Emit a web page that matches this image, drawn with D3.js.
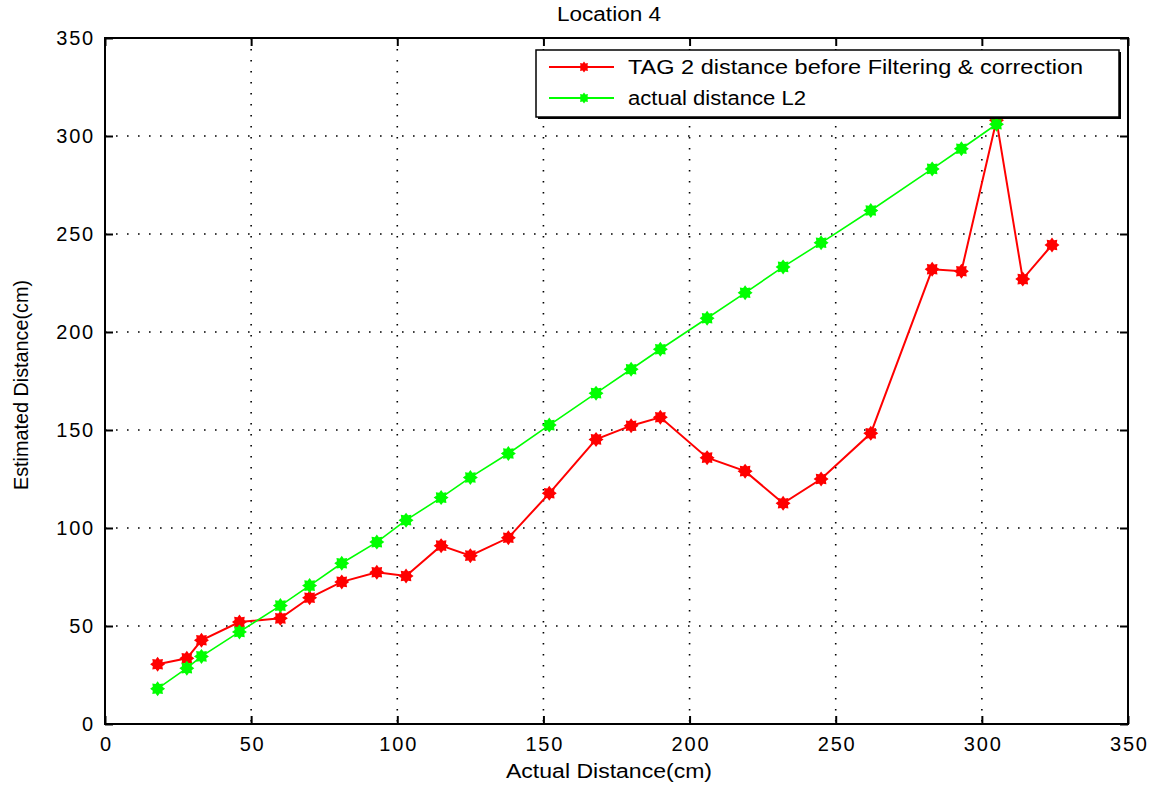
<!DOCTYPE html>
<html>
<head>
<meta charset="utf-8">
<script src="https://cdn.jsdelivr.net/npm/d3@7"></script>
<style>
  html, body { margin: 0; padding: 0; background: #fff; }
  svg { display: block; }
  text { font-family: "Liberation Sans", Arial, sans-serif; fill: #000; }
</style>
</head>
<body>
<svg id="chart" width="1158" height="786"></svg>
<script>
// Measured distances (cm) at each test position
const actualX = [18, 28, 33, 46, 60, 70, 81, 93, 103, 115, 125, 138, 152, 168, 180, 190, 206, 219, 232, 245, 262, 283, 293, 305];
const actualL2 = [18, 28.5, 34.5, 47, 60.4, 70.6, 82, 92.8, 104, 115.5, 125.8, 138, 152.5, 168.8, 181, 191.2, 207, 220, 233.2, 245.5, 262, 283.2, 293.5, 306];

const tagX = [18, 28, 33, 46, 60, 70, 81, 93, 103, 115, 125, 138, 152, 168, 180, 190, 206, 219, 232, 245, 262, 283, 293, 305, 314, 324];
const tagEstimate = [30.5, 33.5, 42.7, 52, 53.9, 64.4, 72.5, 77.4, 75.5, 91, 85.9, 95, 117.7, 145.2, 152.2, 156.5, 135.9, 129, 112.6, 125, 148.3, 232, 231, 308, 227, 244.4];

const xTicks = [0, 50, 100, 150, 200, 250, 300, 350];
const yTicks = [0, 50, 100, 150, 200, 250, 300, 350];

const titleText = "Location 4";
const xLabel = "Actual Distance(cm)";
const yLabel = "Estimated Distance(cm)";
const seriesNames = ["TAG 2 distance before Filtering & correction", "actual distance L2"];
const seriesColors = ["#ff0000", "#00ff00"];

const svg = d3.select("#chart");
const pLeft = 105, pRight = 1128, pTop = 38, pBottom = 724;
const fontSize = 20;

const x = d3.scaleLinear().domain([0, 350]).range([pLeft, pRight]);
const y = d3.scaleLinear().domain([0, 350]).range([pBottom, pTop]);

// Dotted grid
const grid = svg.append("g");
xTicks.slice(1, -1).forEach(t => {
  grid.append("line")
    .attr("x1", x(t)).attr("x2", x(t)).attr("y1", pTop).attr("y2", pBottom)
    .attr("stroke", "#000").attr("stroke-width", 1.6).attr("stroke-dasharray", "1.6,9.4");
});
yTicks.slice(1, -1).forEach(t => {
  grid.append("line")
    .attr("x1", pLeft).attr("x2", pRight).attr("y1", y(t)).attr("y2", y(t))
    .attr("stroke", "#000").attr("stroke-width", 1.6).attr("stroke-dasharray", "1.6,9.4");
});

// Axes with inward ticks on all four sides
const tickLen = 8;
const axB = svg.append("g").attr("transform", `translate(0,${pBottom})`)
  .call(d3.axisBottom(x).tickValues(xTicks).tickSizeInner(-tickLen).tickSizeOuter(0).tickPadding(11));
const axT = svg.append("g").attr("transform", `translate(0,${pTop})`)
  .call(d3.axisTop(x).tickValues(xTicks).tickSizeInner(-tickLen).tickSizeOuter(0).tickFormat(""));
const axL = svg.append("g").attr("transform", `translate(${pLeft},0)`)
  .call(d3.axisLeft(y).tickValues(yTicks).tickSizeInner(-tickLen).tickSizeOuter(0).tickPadding(10));
const axR = svg.append("g").attr("transform", `translate(${pRight},0)`)
  .call(d3.axisRight(y).tickValues(yTicks).tickSizeInner(-tickLen).tickSizeOuter(0).tickFormat(""));

[axB, axT, axL, axR].forEach(a => {
  a.select(".domain").remove();
  a.selectAll(".tick line").attr("stroke", "#000").attr("stroke-width", 2);
  a.selectAll(".tick text").attr("font-size", fontSize).attr("font-family", "Liberation Sans, Arial, sans-serif")
    .attr("letter-spacing", "1.8px").attr("fill", "#000");
});
axB.selectAll(".tick text").attr("dy", "0.78em").attr("dx", "0.9");
axL.selectAll(".tick text").attr("dy", "0.33em");

// Frame
svg.append("rect").attr("x", pLeft).attr("y", pTop).attr("width", pRight - pLeft).attr("height", pBottom - pTop)
  .attr("fill", "none").attr("stroke", "#000").attr("stroke-width", 2);

// Asterisk-style marker drawn as a filled 8-point burst
function burst(r1, r2) {
  const pts = [];
  for (let i = 0; i < 16; i++) {
    const a = Math.PI * i / 8;
    const r = i % 2 === 0 ? r1 : r2;
    pts.push([r * Math.sin(a), -r * Math.cos(a)]);
  }
  return "M" + pts.map(p => p.join(",")).join("L") + "Z";
}
const markerPath = burst(7.5, 5.2);

function drawSeries(xs, ys, color, width) {
  const data = xs.map((v, i) => [v, ys[i]]);
  const line = d3.line().x(d => x(d[0])).y(d => y(d[1]));
  const g = svg.append("g");
  g.append("path").datum(data).attr("d", line)
    .attr("fill", "none").attr("stroke", color).attr("stroke-width", width);
  g.selectAll("path.m").data(data).enter().append("path").attr("class", "m")
    .attr("d", markerPath).attr("transform", d => `translate(${x(d[0])},${y(d[1])})`)
    .attr("fill", color);
}

drawSeries(tagX, tagEstimate, seriesColors[0], 2);
drawSeries(actualX, actualL2, seriesColors[1], 1.6);

// Legend
const lg = svg.append("g");
const lx = 536, ly = 50, lw = 583, lh = 67;
lg.append("rect").attr("x", lx + 2).attr("y", ly + 2).attr("width", lw).attr("height", lh).attr("fill", "#000");
lg.append("rect").attr("x", lx).attr("y", ly).attr("width", lw).attr("height", lh)
  .attr("fill", "#fff").attr("stroke", "#000").attr("stroke-width", 1.5);
const rows = [ly + 17, ly + 48];
seriesNames.forEach((name, i) => {
  lg.append("line").attr("x1", lx + 13).attr("x2", lx + 78).attr("y1", rows[i]).attr("y2", rows[i])
    .attr("stroke", seriesColors[i]).attr("stroke-width", 1.8);
  lg.append("path").attr("d", burst(5.5, 3.8)).attr("transform", `translate(${lx + 48},${rows[i]})`)
    .attr("fill", seriesColors[i]);
  lg.append("text").attr("x", lx + 92).attr("y", rows[i]).attr("dy", "0.36em")
    .attr("font-size", fontSize)
    .attr("textLength", i === 0 ? 455 : 178).attr("lengthAdjust", "spacingAndGlyphs")
    .text(name);
});

// Title and axis labels
svg.append("text").attr("x", 609).attr("y", 14).attr("dy", "0.35em").attr("text-anchor", "middle")
  .attr("font-size", fontSize).attr("textLength", 104).attr("lengthAdjust", "spacingAndGlyphs").text(titleText);
svg.append("text").attr("x", 609).attr("y", 771).attr("dy", "0.35em").attr("text-anchor", "middle")
  .attr("font-size", fontSize).attr("textLength", 206).attr("lengthAdjust", "spacingAndGlyphs").text(xLabel);
svg.append("text").attr("transform", `translate(21,${(pTop + pBottom) / 2 + 4}) rotate(-90)`)
  .attr("dy", "0.35em").attr("text-anchor", "middle")
  .attr("font-size", fontSize).attr("textLength", 210).attr("lengthAdjust", "spacingAndGlyphs").text(yLabel);
</script>
</body>
</html>
